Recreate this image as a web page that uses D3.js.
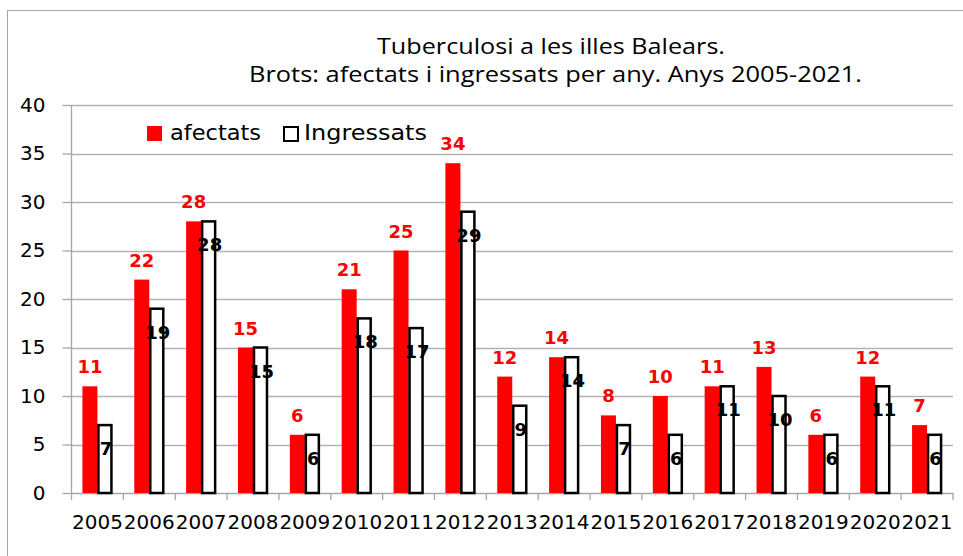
<!DOCTYPE html>
<html>
<head>
<meta charset="utf-8">
<script src="https://cdn.jsdelivr.net/npm/d3@7"></script>
<style>
  body { margin: 0; background: #fff; }
  svg { display: block; font-family: "DejaVu Sans", Verdana, sans-serif; }
</style>
</head>
<body>
<svg id="chart" width="963" height="556"></svg>
<script>
// Data
const years = ["2005","2006","2007","2008","2009","2010","2011","2012","2013","2014","2015","2016","2017","2018","2019","2020","2021"];
const afectats = [11, 22, 28, 15, 6, 21, 25, 34, 12, 14, 8, 10, 11, 13, 6, 12, 7];
const ingressats = [7, 19, 28, 15, 6, 18, 17, 29, 9, 14, 7, 6, 11, 10, 6, 11, 6];
const yTicks = [0, 5, 10, 15, 20, 25, 30, 35, 40];
const titleLines = ["Tuberculosi a les illes Balears.", "Brots: afectats i ingressats per any. Anys 2005-2021."];

const svg = d3.select("#chart");
const margin = { left: 71.5, right: 10, top: 105, bottom: 63 };
const W = 963, H = 556;

// outer frame
svg.append("rect")
  .attr("x", 7.5).attr("y", 10.5)
  .attr("width", 1000).attr("height", 1000)
  .attr("fill", "none").attr("stroke", "#a6a6a6").attr("stroke-width", 1);

const x = d3.scaleBand()
  .domain(years)
  .range([margin.left, W - margin.right]);

const y = d3.scaleLinear()
  .domain([0, 40])
  .range([H - margin.bottom, margin.top]);

// gridlines
svg.append("g")
  .selectAll("line")
  .data(yTicks.filter(d => d > 0))
  .join("line")
  .attr("x1", margin.left).attr("x2", W - margin.right)
  .attr("y1", d => Math.round(y(d)) + 0.5).attr("y2", d => Math.round(y(d)) + 0.5)
  .attr("stroke", "#b3b3b3").attr("stroke-width", 1.3);

// y axis
const yAxis = svg.append("g")
  .attr("transform", `translate(${margin.left},0)`)
  .call(d3.axisLeft(y).tickValues(yTicks).tickSize(9).tickPadding(17).tickFormat(d3.format("d")));
yAxis.selectAll("path, line").attr("stroke", "#a6a6a6").attr("stroke-width", 1.3);
yAxis.select(".domain").attr("d", `M0,${y(0)}V${y(40)}`);
yAxis.selectAll("text").attr("fill", "#000")
  .style("font-size", "20px").style("font-family", "DejaVu Sans, Verdana, sans-serif");

// x axis
const xAxis = svg.append("g")
  .attr("transform", `translate(0,${y(0)})`)
  .call(d3.axisBottom(x).tickSize(0).tickPadding(22));
xAxis.select(".domain").attr("stroke", "#a6a6a6").attr("stroke-width", 1.3);
xAxis.selectAll("text").attr("fill", "#000")
  .style("font-size", "20px").style("font-family", "DejaVu Sans, Verdana, sans-serif");
// category boundary ticks
xAxis.append("g").selectAll("line")
  .data(years.concat(["end"]))
  .join("line")
  .attr("x1", (d, i) => margin.left + i * x.step())
  .attr("x2", (d, i) => margin.left + i * x.step())
  .attr("y1", 0).attr("y2", 7)
  .attr("stroke", "#a6a6a6").attr("stroke-width", 1.3);

// bars
const barW = 15;
const groupPad = (x.bandwidth() - 2 * barW) / 2;

const groups = svg.append("g").selectAll("g")
  .data(years)
  .join("g")
  .attr("transform", d => `translate(${x(d) + groupPad},0)`);

groups.append("rect")
  .attr("x", 0)
  .attr("y", (d, i) => y(afectats[i]))
  .attr("width", barW)
  .attr("height", (d, i) => y(0) - y(afectats[i]))
  .attr("fill", "#ff0000");

groups.append("rect")
  .attr("x", barW + 1)
  .attr("y", (d, i) => y(ingressats[i]))
  .attr("width", barW - 2)
  .attr("height", (d, i) => y(0) - y(ingressats[i]))
  .attr("fill", "#fff")
  .attr("stroke", "#000")
  .attr("stroke-width", 2.5);

// value labels
groups.append("text")
  .attr("x", barW / 2)
  .attr("y", (d, i) => y(afectats[i]) - 13)
  .attr("text-anchor", "middle")
  .style("font-size", "18px").style("font-weight", "bold")
  .attr("fill", "#ff0000")
  .text((d, i) => afectats[i]);

groups.append("text")
  .attr("x", barW * 1.5 + 1)
  .attr("y", (d, i) => y(ingressats[i]) + 30)
  .attr("text-anchor", "middle")
  .style("font-size", "18px").style("font-weight", "bold")
  .attr("fill", "#000")
  .text((d, i) => ingressats[i]);

// title (reference type is stretched horizontally)
const titleX = [377, 249];
const titleLen = [348, 613];
svg.append("g").selectAll("text")
  .data(titleLines)
  .join("text")
  .attr("x", (d, i) => titleX[i])
  .attr("y", (d, i) => 54 + i * 28)
  .attr("textLength", (d, i) => titleLen[i])
  .attr("lengthAdjust", "spacingAndGlyphs")
  .style("font-family", "'Open Sans', 'Noto Sans', sans-serif")
  .style("font-size", "22px")
  .attr("fill", "#000")
  .text(d => d);

// legend
const legend = svg.append("g").attr("transform", "translate(147,126)");
legend.append("rect").attr("x", 0).attr("y", 0).attr("width", 15).attr("height", 15).attr("fill", "#ff0000");
legend.append("text").attr("x", 23).attr("y", 14).style("font-size", "21px")
  .attr("textLength", 91).attr("lengthAdjust", "spacingAndGlyphs").text("afectats");
legend.append("rect").attr("x", 137).attr("y", 1).attr("width", 14).attr("height", 14)
  .attr("fill", "#fff").attr("stroke", "#000").attr("stroke-width", 2);
legend.append("text").attr("x", 157).attr("y", 14).style("font-size", "21px")
  .attr("textLength", 123).attr("lengthAdjust", "spacingAndGlyphs").text("Ingressats");
</script>
</body>
</html>
